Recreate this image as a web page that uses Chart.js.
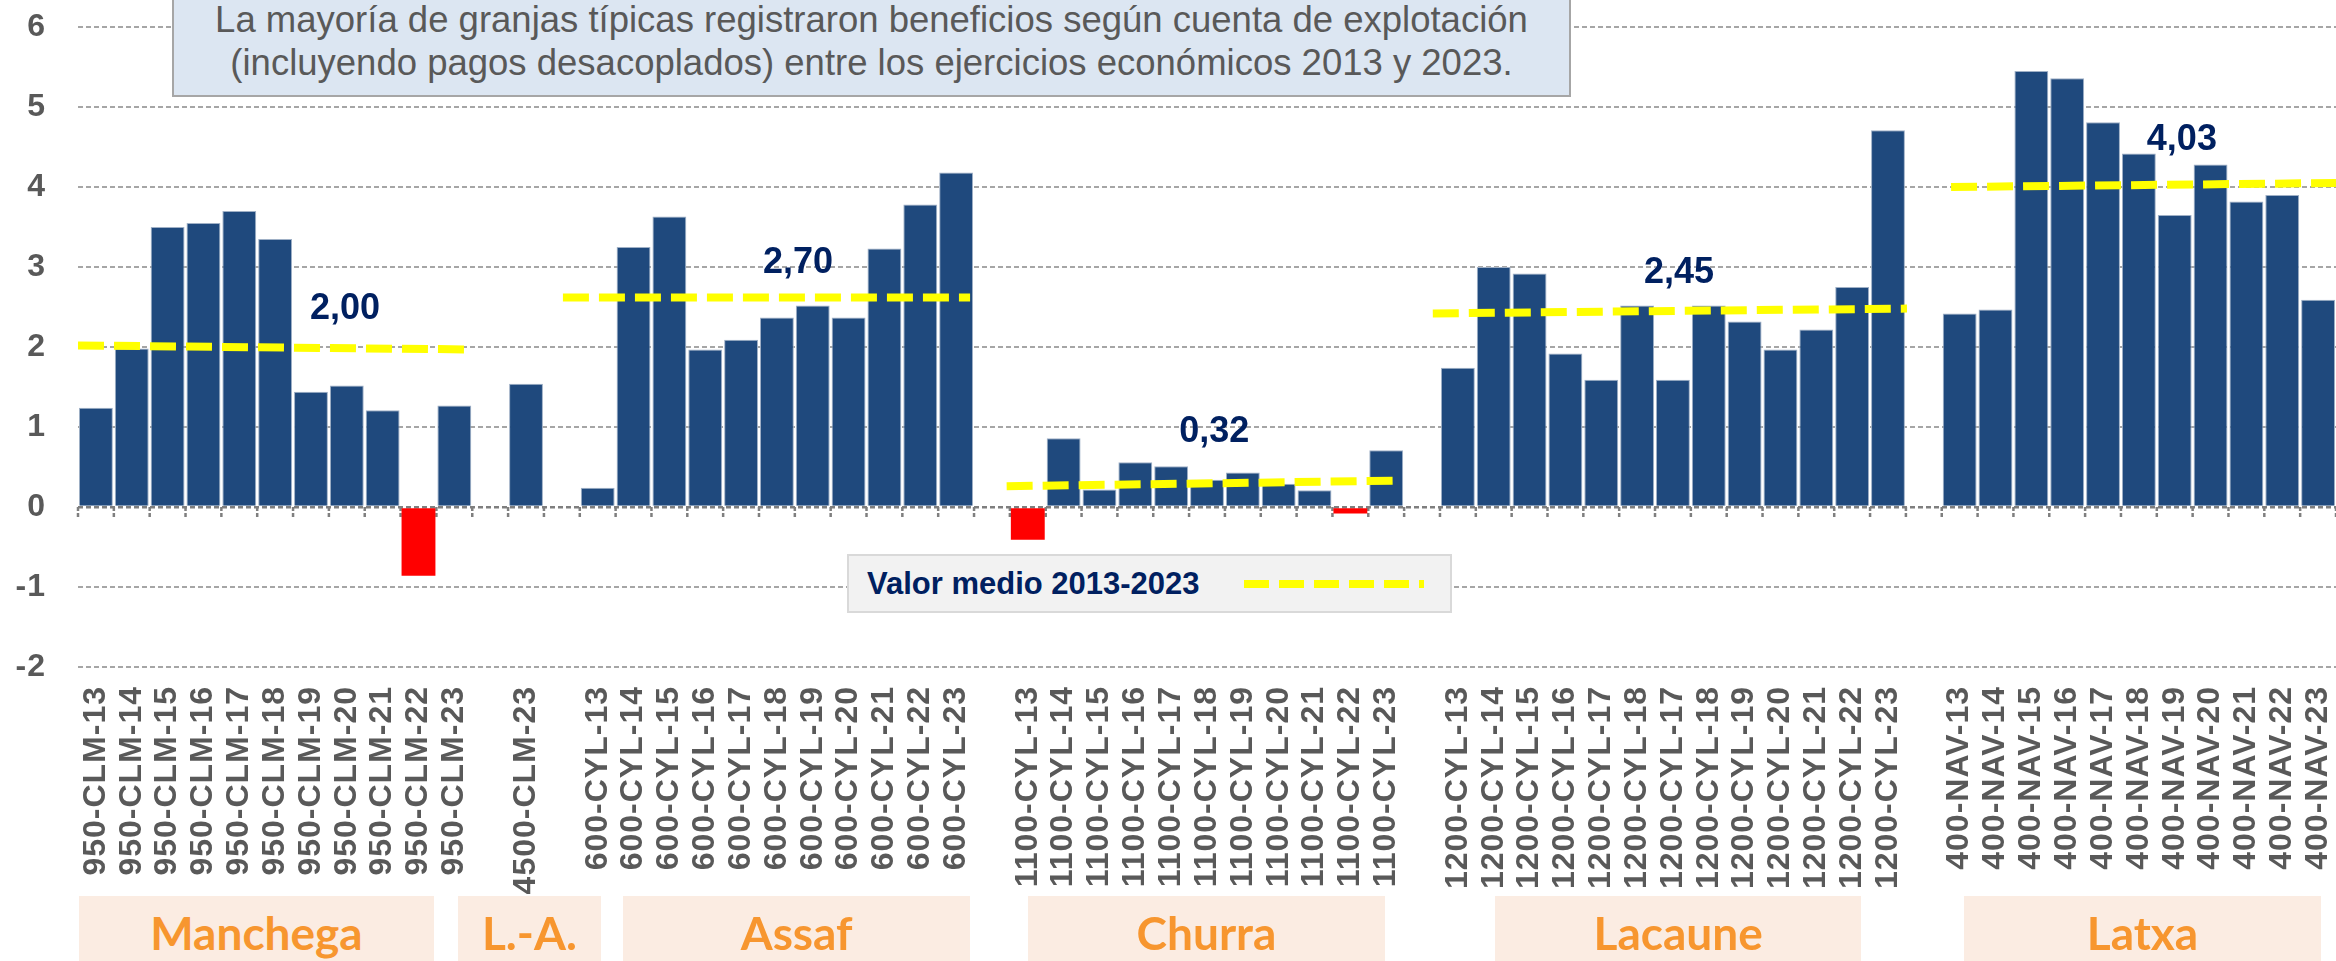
<!DOCTYPE html>
<html lang="es">
<head>
<meta charset="utf-8">
<title>Beneficio granjas típicas 2013-2023</title>
<script src="https://cdn.jsdelivr.net/npm/chart.js@4.4.1/dist/chart.umd.min.js"></script>
<style>
  html, body { margin: 0; padding: 0; background: #fff; }
  #wrap { position: relative; width: 2336px; height: 961px; overflow: hidden; font-family: 'Liberation Sans', Arial, sans-serif; }
  #wrap canvas { position: absolute; left: 0; top: 0; }
  .note {
    position: absolute; left: 172px; top: -10px; width: 1399px; height: 107px; box-sizing: border-box;
    background: #dce6f2; border: 2px solid #a6a6a6; color: #595959;
    font-size: 36.5px; line-height: 43px; text-align: center; padding-top: 6px;
  }
  .legend {
    position: absolute; left: 847px; top: 554px; width: 605px; height: 59px; box-sizing: border-box;
    background: #f2f2f2; border: 2px solid #d9d9d9;
  }
  .legend span {
    position: absolute; left: 18px; top: 50%; transform: translateY(-50%);
    font-weight: bold; font-size: 31px; color: #002060; white-space: nowrap;
  }
  .legend i {
    position: absolute; left: 395px; top: 24px; width: 180px; height: 8px;
    background: repeating-linear-gradient(90deg, #ffff00 0 25px, transparent 25px 35px);
  }
  .group {
    position: absolute; top: 896px; height: 80px; background: #fbece2; color: #f7962f;
    font-family: Lato, 'Open Sans', sans-serif; font-weight: bold; font-size: 46px;
    text-align: center; line-height: 74px; white-space: nowrap;
  }
</style>
</head>
<body>
<div id="wrap">
  <canvas id="profitChart"></canvas>
  <div class="note">La mayoría de granjas típicas registraron beneficios según cuenta de explotación<br>(incluyendo pagos desacoplados) entre los ejercicios económicos 2013 y 2023.</div>
  <div class="legend"><span>Valor medio 2013-2023</span><i></i></div>
</div>
<script>
// --- data ---
const manchegaCats = ['950-CLM-13', '950-CLM-14', '950-CLM-15', '950-CLM-16', '950-CLM-17', '950-CLM-18',
  '950-CLM-19', '950-CLM-20', '950-CLM-21', '950-CLM-22', '950-CLM-23'];
const manchegaVals = [1.24, 1.98, 3.50, 3.55, 3.70, 3.35, 1.44, 1.52, 1.21, -0.86, 1.27];

const laCats = ['4500-CLM-23'];
const laVals = [1.54];

const assafCats = ['600-CYL-13', '600-CYL-14', '600-CYL-15', '600-CYL-16', '600-CYL-17', '600-CYL-18',
  '600-CYL-19', '600-CYL-20', '600-CYL-21', '600-CYL-22', '600-CYL-23'];
const assafVals = [0.24, 3.25, 3.63, 1.97, 2.09, 2.37, 2.52, 2.37, 3.23, 3.78, 4.18];

const churraCats = ['1100-CYL-13', '1100-CYL-14', '1100-CYL-15', '1100-CYL-16', '1100-CYL-17', '1100-CYL-18',
  '1100-CYL-19', '1100-CYL-20', '1100-CYL-21', '1100-CYL-22', '1100-CYL-23'];
const churraVals = [-0.41, 0.86, 0.22, 0.56, 0.51, 0.34, 0.43, 0.29, 0.21, -0.08, 0.71];

const lacauneCats = ['1200-CYL-13', '1200-CYL-14', '1200-CYL-15', '1200-CYL-16', '1200-CYL-17', '1200-CYL-18',
  '1200-CYL-17', '1200-CYL-18', '1200-CYL-19', '1200-CYL-20', '1200-CYL-21', '1200-CYL-22', '1200-CYL-23'];
const lacauneVals = [1.74, 3.00, 2.92, 1.92, 1.59, 2.52, 1.59, 2.52, 2.32, 1.97, 2.22, 2.75, 4.71];

const latxaCats = ['400-NAV-13', '400-NAV-14', '400-NAV-15', '400-NAV-16', '400-NAV-17', '400-NAV-18',
  '400-NAV-19', '400-NAV-20', '400-NAV-21', '400-NAV-22', '400-NAV-23'];
const latxaVals = [2.42, 2.47, 5.45, 5.36, 4.81, 4.42, 3.65, 4.28, 3.82, 3.90, 2.59];

const groupNames = ['Manchega', 'L.-A.', 'Assaf', 'Churra', 'Lacaune', 'Latxa'];

// average lines (valor medio 2013-2023), x in category index units
const meanText = ['2,00', '2,70', '0,32', '2,45', '4,03'];
const meanFrom = [-0.5, 13.03, 25.41, 37.3, 51.76];
const meanTo = [10.3, 24.39, 36.43, 50.53, 62.5];
const meanStartVal = [2.02, 2.62, 0.26, 2.42, 4.00];
const meanEndVal = [1.97, 2.62, 0.33, 2.48, 4.05];

const yMin = -2, yMax = 6;

// one empty slot between breeds
const categories = [...manchegaCats, '', ...laCats, '', ...assafCats, '', ...churraCats, '', ...lacauneCats, '', ...latxaCats];
const profit = [...manchegaVals, null, ...laVals, null, ...assafVals, null, ...churraVals, null, ...lacauneVals, null, ...latxaVals];

// --- layout bits (category index units) ---
const meanLabelAt = [[6.95, 2.48], [19.59, 3.05], [31.2, 0.94], [44.17, 2.92], [58.2, 4.59]];
const groupSpan = [[-0.47, 9.43], [10.1, 14.09], [14.71, 24.39], [26.0, 35.97], [39.04, 49.25], [52.12, 62.08]];

const BLUE = '#1f497d';
const RED = '#ff0000';
const FONT = "'Liberation Sans', Arial, sans-serif";

const meanDatasets = meanText.map((t, i) => ({
  type: 'line',
  label: 'Valor medio ' + t,
  data: [{ x: meanFrom[i], y: meanStartVal[i] }, { x: meanTo[i], y: meanEndVal[i] }],
  borderColor: '#ffff00',
  borderWidth: 8,
  borderDash: [26, 10],
  borderCapStyle: 'butt',
  pointRadius: 0,
  fill: false,
  order: 1
}));

const letterSpacing = {
  id: 'letterSpacing',
  beforeDraw(chart) { chart.ctx.letterSpacing = '1px'; }
};

const zeroTicks = {
  id: 'zeroTicks',
  beforeDatasetsDraw(chart) {
    const { ctx, scales: { x, y } } = chart;
    const y0 = y.getPixelForValue(0);
    ctx.save();
    ctx.strokeStyle = '#7f7f7f';
    ctx.lineWidth = 2.5;
    ctx.setLineDash([4, 2]);
    for (let i = 0; i <= categories.length; i++) {
      const px = x.getPixelForValue(i - 0.5);
      ctx.beginPath();
      ctx.moveTo(px, y0);
      ctx.lineTo(px, y0 + 10);
      ctx.stroke();
    }
    ctx.restore();
  }
};

const meanLabels = {
  id: 'meanLabels',
  afterDatasetsDraw(chart) {
    const { ctx, scales: { x, y } } = chart;
    ctx.save();
    ctx.letterSpacing = '0px';
    ctx.font = 'bold 36px ' + FONT;
    ctx.fillStyle = '#002060';
    ctx.textAlign = 'center';
    ctx.textBaseline = 'middle';
    meanText.forEach((t, i) => {
      ctx.fillText(t, x.getPixelForValue(meanLabelAt[i][0]), y.getPixelForValue(meanLabelAt[i][1]));
    });
    ctx.restore();
  }
};

const groupBoxes = {
  id: 'groupBoxes',
  afterRender(chart) {
    if (chart._groupsDone) return;
    chart._groupsDone = true;
    const x = chart.scales.x;
    const wrap = document.getElementById('wrap');
    groupNames.forEach((name, i) => {
      const left = x.getPixelForValue(groupSpan[i][0]);
      const right = x.getPixelForValue(groupSpan[i][1]);
      const div = document.createElement('div');
      div.className = 'group';
      div.style.left = left + 'px';
      div.style.width = (right - left) + 'px';
      div.textContent = name;
      wrap.appendChild(div);
    });
  }
};

new Chart(document.getElementById('profitChart'), {
  type: 'bar',
  data: {
    datasets: [{
      label: 'Beneficio',
      data: profit.map((v, i) => ({ x: i, y: v })),
      backgroundColor: c => (c.raw && c.raw.y < 0 ? RED : BLUE),
      borderColor: c => (c.raw && c.raw.y < 0 ? RED : '#9fb0c6'),
      borderWidth: c => (c.raw && c.raw.y < 0 ? 0 : 1),
      grouped: false,
      barPercentage: 0.945,
      categoryPercentage: 1,
      order: 2
    }, ...meanDatasets]
  },
  options: {
    responsive: true,
    maintainAspectRatio: false,
    animation: false,
    layout: { padding: { top: 27, left: 0, right: 0, bottom: 0 } },
    plugins: {
      legend: { display: false },
      tooltip: { enabled: false }
    },
    scales: {
      x: {
        type: 'linear',
        bounds: 'data',
        offset: false,
        min: -0.5,
        max: categories.length - 0.5,
        grid: { display: false, drawTicks: false },
        border: { display: false },
        afterBuildTicks(scale) { scale.ticks = categories.map((c, i) => ({ value: i })); },
        ticks: {
          autoSkip: false,
          minRotation: 90,
          maxRotation: 90,
          padding: 19,
          color: '#595959',
          font: { family: FONT, size: 32, weight: 'bold' },
          callback: v => categories[v] || ''
        },
        afterFit(scale) {
          scale.height = 294;
          scale.paddingLeft = 0;
          scale.paddingRight = 0;
        }
      },
      y: {
        min: yMin,
        max: yMax,
        ticks: {
          stepSize: 1,
          padding: 32,
          color: '#595959',
          font: { family: FONT, size: 32, weight: 'bold' }
        },
        grid: {
          drawTicks: false,
          color: c => (c.tick && c.tick.value === 0 ? '#7f7f7f' : '#a6a6a6'),
          lineWidth: c => (c.tick && c.tick.value === 0 ? 2.5 : 2)
        },
        border: { display: false, dash: [5, 3] },
        afterFit(scale) {
          scale.width = 78;
          scale.paddingTop = 0;
          scale.paddingBottom = 0;
        }
      }
    }
  },
  plugins: [letterSpacing, zeroTicks, meanLabels, groupBoxes]
});
</script>
</body>
</html>
